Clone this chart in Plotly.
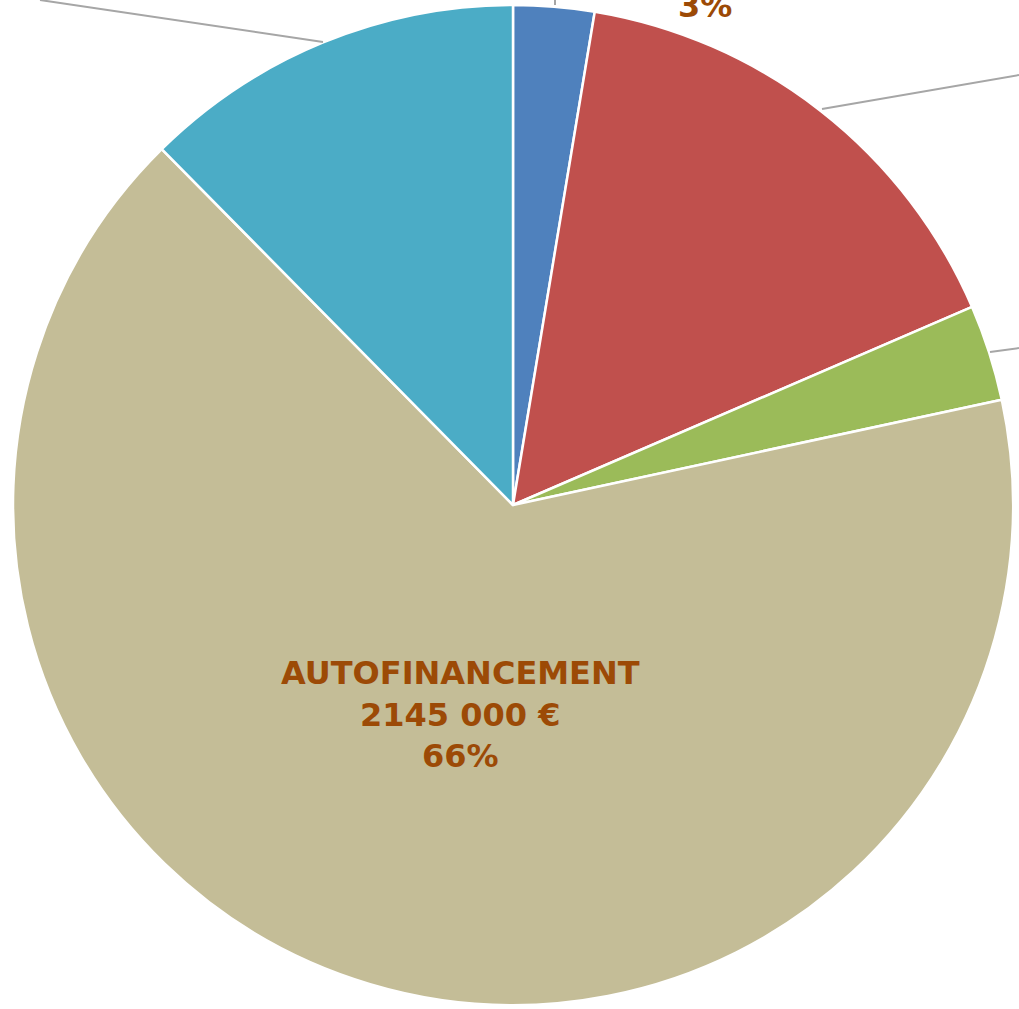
import plotly.graph_objects as go

W, H = 1019, 1009

labels = ["EMPRUNT", "SUBVENTIONS", "AUTRES AIDES", "AUTOFINANCEMENT", "FONDS PROPRES"]
values = [85000, 517000, 101000, 2145000, 403000]
colors = ["#4F81BD", "#C0504D", "#9BBB59", "#C4BD97", "#4BACC6"]

total = sum(values)
main = 3
main_label = (
    f"<b>{labels[main]}<br>{values[main] // 1000} {values[main] % 1000:03d} €"
    f"<br>{values[main] / total:.0%}</b>"
)
small_label = f"<b>{values[0] / total:.0%}</b>"

TXT = dict(family="DejaVu Sans", size=32, color="#9C4A06")


def px_x(x):
    return x / W


def px_y(y):
    return 1 - y / H


fig = go.Figure(go.Pie(
    labels=labels,
    values=values,
    sort=False,
    direction="clockwise",
    rotation=0,
    marker=dict(colors=colors, line=dict(color="white", width=2.5)),
    textinfo="none",
    domain=dict(x=[13 / W, 1013 / W], y=[4 / H, 1004 / H]),
    showlegend=False,
    hoverinfo="label+value+percent",
))

# data labels
fig.add_annotation(x=px_x(460), y=px_y(714), xref="paper", yref="paper",
                   xanchor="center", yanchor="middle", showarrow=False,
                   text=main_label, font=TXT)
fig.add_annotation(x=px_x(705), y=px_y(6), xref="paper", yref="paper",
                   xanchor="center", yanchor="middle", showarrow=False,
                   text=small_label, font=TXT)

# leader lines of the cropped outside labels
leaders = [
    (40, 0, 323, 42),
    (555, 0, 555, 5),
    (822, 109, 1019, 75),
    (990, 352, 1019, 348),
]
for x0, y0, x1, y1 in leaders:
    fig.add_shape(type="line", xref="paper", yref="paper",
                  x0=px_x(x0), y0=px_y(y0), x1=px_x(x1), y1=px_y(y1),
                  line=dict(color="#A6A6A6", width=2))

fig.update_layout(
    width=W, height=H,
    margin=dict(l=0, r=0, t=0, b=0),
    paper_bgcolor="white",
    plot_bgcolor="white",
)

fig.write_html("out.html", config={"displayModeBar": False},
               post_script="document.body.style.margin='0';")
